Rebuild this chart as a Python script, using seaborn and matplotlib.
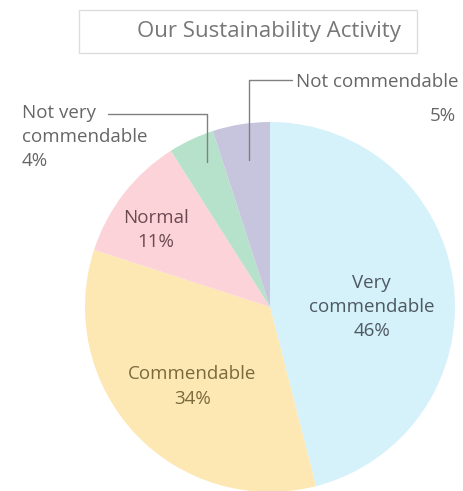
import matplotlib
matplotlib.use("Agg")
import matplotlib.pyplot as plt
import seaborn as sns
from matplotlib.patches import Rectangle

# data
categories = ["Very\ncommendable", "Commendable", "Normal",
              "Not very\ncommendable", "Not commendable"]
shares = [46, 34, 11, 4, 5]
hex_colors = ["#d5f1fa", "#fde8b4", "#fbd3d9", "#b6e2cc", "#c7c4dd"]
text_colors = ["#4d5862", "#7a6a3c", "#6b4b52", "#666666", "#666666"]

sns.set_theme(style="white")
plt.rcParams["font.family"] = ["Open Sans", "DejaVu Sans"]
pal = sns.color_palette(hex_colors)

fig = plt.figure(figsize=(4.63, 4.91), dpi=100)
ax = fig.add_axes([0.1836, -0.002, 0.799, 0.7536])

wedges, _ = ax.pie(shares, colors=pal, startangle=90, counterclock=False,
                   radius=1, wedgeprops=dict(linewidth=0))
ax.set_xlim(-1, 1)
ax.set_ylim(-1, 1)
ax.set_aspect("equal")
ax.axis("off")

fs = 13.5
# labels inside the big wedges
ax.text(0.55, 0.0, f"{categories[0]}\n{shares[0]}%", ha="center", va="center",
        fontsize=fs, color=text_colors[0], linespacing=1.45)
ax.text(-0.42, -0.43, f"{categories[1]}\n{shares[1]}%", ha="center", va="center",
        fontsize=fs, color=text_colors[1], linespacing=1.45)
ax.text(-0.615, 0.415, f"{categories[2]}\n{shares[2]}%", ha="center", va="center",
        fontsize=fs, color=text_colors[2], linespacing=1.45)

# outside labels with leader lines (figure pixel coords -> fraction)
W, H = 463, 491
def fx(x):
    return x / W
def fy(y):
    return 1 - y / H

fig.text(fx(22), fy(137), f"{categories[3]}\n{shares[3]}%", ha="left", va="center",
         fontsize=fs, color=text_colors[3], linespacing=1.45)
fig.add_artist(plt.Line2D([fx(108), fx(207), fx(207)], [fy(114), fy(114), fy(162)],
                          color="#808080", lw=1))

fig.text(fx(458), fy(82), categories[4], ha="right", va="center",
         fontsize=fs, color=text_colors[4])
fig.text(fx(456), fy(116), f"{shares[4]}%", ha="right", va="center",
         fontsize=fs, color=text_colors[4])
fig.add_artist(plt.Line2D([fx(292), fx(249), fx(249)], [fy(80), fy(80), fy(160)],
                          color="#808080", lw=1))

# title in a box
fig.add_artist(Rectangle((fx(79), fy(53)), (417 - 79) / W, 43 / H,
                         transform=fig.transFigure, facecolor="white",
                         edgecolor="#dddddd", lw=1))
fig.text(fx(269), fy(32), "Our Sustainability Activity", ha="center", va="center",
         fontsize=16, color="#777777")

fig.savefig("out.png", dpi=100)
